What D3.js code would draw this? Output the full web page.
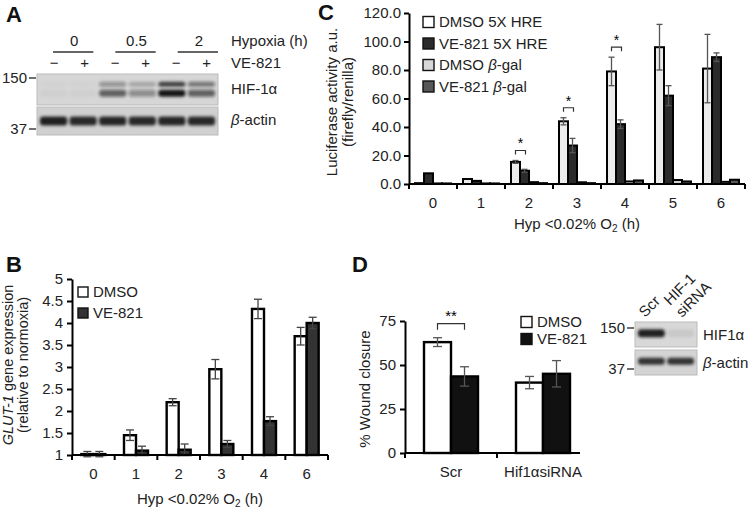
<!DOCTYPE html>
<html lang="en">
<head>
<meta charset="UTF-8">
<title>VE-821 hypoxia figure</title>
<script src="https://d3js.org/d3.v7.min.js"></script>
<style>
  body { margin: 0; background: #fff; }
  svg { font-family: "Liberation Sans", Arial, Helvetica, sans-serif; }
  .axis path, .axis line { stroke: #000; stroke-width: 2; }
  .axis text { font-size: 15px; fill: #222; font-family: "Liberation Sans", Arial, sans-serif; }
  .lbl { font-size: 15px; fill: #222; }
  .panel { font-size: 22px; font-weight: bold; fill: #111; }
</style>
</head>
<body>
<svg id="fig" width="750" height="514"></svg>
<script>
// ---- panel A: western blot ----
const laneMarks = ['\u2212', '+', '\u2212', '+', '\u2212', '+'];
const hypoxiaGroups = ['0', '0.5', '2'];
const hifUpperA = [0.02, 0.02, 0.35, 0.22, 0.8, 0.5];
const hifLowerA = [0.03, 0.03, 0.6, 0.38, 1.0, 0.6];
const actinA = [0.95, 0.9, 0.92, 0.9, 0.92, 0.9];

// ---- panel B: GLUT-1 expression ----
const hoursB = ['0', '1', '2', '3', '4', '6'];
const seriesB = ['DMSO', 'VE-821'];
const glutDMSO = [1.02, 1.45, 2.2, 2.95, 4.32, 3.7];
const glutDMSOErr = [0.06, 0.12, 0.08, 0.22, 0.22, 0.2];
const glutVE = [1.02, 1.1, 1.12, 1.25, 1.77, 4.0];
const glutVEErr = [0.06, 0.1, 0.13, 0.08, 0.1, 0.13];
const ticksB = [1, 1.5, 2, 2.5, 3, 3.5, 4, 4.5, 5];

// ---- panel C: luciferase ----
const hoursC = ['0', '1', '2', '3', '4', '5', '6'];
const seriesC = ['DMSO 5X HRE', 'VE-821 5X HRE', 'DMSO \u03b2-gal', 'VE-821 \u03b2-gal'];
const dmsoHRE = [0.6, 3.5, 15.5, 44, 79, 96, 81];
const dmsoHREErr = [0.3, 0.5, 1, 2.5, 10, 16, 24];
const veHRE = [7.5, 2.2, 9.3, 27, 42, 62, 89];
const veHREErr = [0.5, 0.4, 1, 5, 3, 7, 3];
const dmsoGal = [0.4, 0.4, 1.3, 1.2, 1.8, 2.8, 1.5];
const veGal = [0.4, 0.4, 0.6, 0.6, 2.5, 1.8, 3];
const sigC = ['2', '3', '4'];
const ticksC = [0, 20, 40, 60, 80, 100, 120];

// ---- panel D: wound closure ----
const groupsD = ['Scr', 'Hif1\u03b1siRNA'];
const woundDMSO = [63, 40];
const woundDMSOErr = [2.5, 3.5];
const woundVE = [43.5, 45];
const woundVEErr = [5.5, 7.5];
const ticksD = [0, 25, 50, 75];
const lanesD = ['Scr', 'HIF-1 siRNA'];
const hifD = [0.95, 0.07];
const actinD = [0.85, 0.85];

const svg = d3.select('#fig');

// blur for blot bands
const defs = svg.append('defs');
defs.append('filter').attr('id', 'blur').attr('x', '-50%').attr('y', '-100%').attr('width', '200%').attr('height', '300%')
  .append('feGaussianBlur').attr('stdDeviation', 1.6);

function panelLetter(t, x, y) {
  svg.append('text').attr('class', 'panel').attr('x', x).attr('y', y).text(t);
}

// draws a blot strip; lanes from a band scale, intensity via opacity
function blot(x0, x1, y0, y1, lanes, rows, bg) {
  const g = svg.append('g');
  const xl = d3.scaleBand().domain(d3.range(lanes)).range([x0, x1]).paddingInner(0.08).paddingOuter(0.1);
  g.append('rect').attr('x', x0).attr('y', y0).attr('width', x1 - x0).attr('height', y1 - y0)
    .attr('fill', bg).attr('stroke', '#bbb').attr('stroke-width', 1);
  rows.forEach(r => {
    g.append('g').attr('filter', 'url(#blur)')
      .selectAll('rect').data(r.vals).join('rect')
      .attr('x', (d, i) => xl(i))
      .attr('width', xl.bandwidth())
      .attr('y', y0 + (y1 - y0) * r.pos - r.h / 2)
      .attr('height', r.h)
      .attr('rx', 3)
      .attr('fill', '#151515')
      .attr('opacity', d => d);
  });
  return xl;
}

// size marker: "150 –" next to a blot
function marker(xEnd, y, t) {
  svg.append('text').attr('class', 'lbl').attr('text-anchor', 'end').attr('x', xEnd - 9).attr('y', y + 5).text(t);
  svg.append('line').attr('x1', xEnd - 7).attr('x2', xEnd).attr('y1', y).attr('y2', y)
    .attr('stroke', '#222').attr('stroke-width', 1.3);
}

// ================= Panel A =================
panelLetter('A', 6, 22);
{
  const bx0 = 37, bx1 = 218;
  const xl = d3.scaleBand().domain(d3.range(6)).range([bx0 + 2, bx1 + 4]);
  svg.append('g').selectAll('text').data(laneMarks).join('text')
    .attr('class', 'lbl').attr('x', (d, i) => xl(i) + xl.bandwidth() / 2).attr('y', 68)
    .attr('text-anchor', 'middle').text(d => d);
  const xg = d3.scaleBand().domain(hypoxiaGroups).range([bx0 + 14, bx1 + 20]);
  const gg = svg.append('g').selectAll('g').data(hypoxiaGroups).join('g');
  gg.append('text').attr('class', 'lbl').attr('y', 46)
    .attr('x', d => xg(d) + (xg.bandwidth() - 18) / 2 + 1)
    .attr('text-anchor', 'middle').text(d => d);
  gg.append('line').attr('x1', d => xg(d) + 2).attr('x2', d => xg(d) + xg.bandwidth() - 20)
    .attr('y1', 52).attr('y2', 52).attr('stroke', '#333').attr('stroke-width', 1.3);
  svg.append('text').attr('class', 'lbl').attr('x', 231).attr('y', 46).text('Hypoxia (h)');
  svg.append('text').attr('class', 'lbl').attr('x', 231).attr('y', 68).text('VE-821');

  blot(bx0, bx1, 74, 105, 6, [
    { vals: hifUpperA, pos: 0.33, h: 5 },
    { vals: hifLowerA, pos: 0.62, h: 7 }
  ], '#d6d6d6');
  blot(bx0, bx1, 107, 135, 6, [{ vals: actinA, pos: 0.5, h: 9 }], '#d0d0d0');

  svg.append('text').attr('class', 'lbl').attr('x', 231).attr('y', 94).text('HIF-1\u03b1');
  svg.append('text').attr('class', 'lbl').attr('x', 231).attr('y', 125)
    .html('<tspan font-style="italic">\u03b2</tspan>-actin');
  marker(36, 78, '150');
  marker(36, 129, '37');
}

// helpers for bar charts
function errorBars(g, rows, xc, y, cap, color) {
  const e = g.append('g').attr('stroke', color).attr('stroke-width', 1.3).attr('fill', 'none');
  e.selectAll('line.v').data(rows).join('line').attr('class', 'v')
    .attr('x1', xc).attr('x2', xc).attr('y1', d => y(d.v - d.e)).attr('y2', d => y(d.v + d.e));
  e.selectAll('line.t').data(rows).join('line').attr('class', 't')
    .attr('x1', d => xc(d) - cap / 2).attr('x2', d => xc(d) + cap / 2)
    .attr('y1', d => y(d.v + d.e)).attr('y2', d => y(d.v + d.e));
  e.selectAll('line.b').data(rows).join('line').attr('class', 'b')
    .attr('x1', d => xc(d) - cap / 2).attr('x2', d => xc(d) + cap / 2)
    .attr('y1', d => y(d.v - d.e)).attr('y2', d => y(d.v - d.e));
}

function bandAxis(x, yPos, tickLen, end) {
  const g = svg.append('g').attr('class', 'axis').attr('transform', `translate(0,${yPos})`)
    .call(d3.axisBottom(x).tickSize(0).tickPadding(13));
  g.select('.domain').remove();
  const r = x.range();
  const bounds = x.domain().map(d => x(d)).concat([r[1]]).filter(d => d <= (end || r[1]));
  g.append('line').attr('x1', r[0]).attr('x2', end || r[1]).attr('y1', 0).attr('y2', 0);
  g.selectAll('line.bt').data(bounds).join('line').attr('class', 'bt')
    .attr('x1', d => d).attr('x2', d => d).attr('y1', 0).attr('y2', tickLen);
  return g;
}

function legendBox(x, y, fill, html, size) {
  svg.append('rect').attr('x', x).attr('y', y - size / 2).attr('width', size).attr('height', size)
    .attr('fill', fill).attr('stroke', '#111').attr('stroke-width', 1.4);
  svg.append('text').attr('class', 'lbl').attr('x', x + size + 5).attr('y', y + 5).html(html);
}

// ================= Panel B =================
panelLetter('B', 6, 272);
{
  const x = d3.scaleBand().domain(hoursB).range([72, 328]);
  const y = d3.scaleLinear().domain([1, 5]).range([455, 279]);
  const s = d3.scaleBand().domain(seriesB).range([-12, 12]);
  const fills = { 'DMSO': '#fff', 'VE-821': '#333' };
  const rows = [];
  hoursB.forEach((h, i) => {
    rows.push({ h, s: 'DMSO', v: glutDMSO[i], e: glutDMSOErr[i] });
    rows.push({ h, s: 'VE-821', v: glutVE[i], e: glutVEErr[i] });
  });
  const g = svg.append('g');
  const bx = d => x(d.h) + x.bandwidth() / 2 + s(d.s);
  g.selectAll('rect').data(rows).join('rect')
    .attr('x', bx).attr('width', s.bandwidth())
    .attr('y', d => y(d.v)).attr('height', d => y(1) - y(d.v))
    .attr('fill', d => fills[d.s]).attr('stroke', '#000').attr('stroke-width', 2.4);
  errorBars(g, rows, d => bx(d) + s.bandwidth() / 2, y, 8, '#444');

  svg.append('g').attr('class', 'axis').attr('transform', 'translate(72,0)')
    .call(d3.axisLeft(y).tickValues(ticksB).tickFormat(d3.format('~g')).tickSize(5).tickSizeOuter(0).tickPadding(4));
  bandAxis(x, 455, 5);

  legendBox(78, 292, '#fff', 'DMSO', 10);
  legendBox(78, 313, '#333', 'VE-821', 10);

  svg.append('text').attr('class', 'lbl').attr('text-anchor', 'middle').style('font-size', '14.5px')
    .attr('transform', 'translate(13,365) rotate(-90)')
    .html('<tspan font-style="italic">GLUT-1</tspan> gene expression');
  svg.append('text').attr('class', 'lbl').attr('text-anchor', 'middle').style('font-size', '14.5px')
    .attr('transform', 'translate(28,365) rotate(-90)').text('(relative to normoxia)');
  svg.append('text').attr('class', 'lbl').attr('text-anchor', 'middle').attr('x', 200).attr('y', 504)
    .html('Hyp &lt;0.02% O<tspan dy="3" font-size="10">2</tspan><tspan dy="-3"> (h)</tspan>');
}

// ================= Panel C =================
panelLetter('C', 318, 20);
{
  const x = d3.scaleBand().domain(hoursC).range([409, 745]);
  const y = d3.scaleLinear().domain([0, 120]).range([184, 13]);
  const s = d3.scaleBand().domain(seriesC).range([6, 42]);
  const fills = ['#ececec', '#2b2b2b', '#d2d2d2', '#575757'];
  const vals = [dmsoHRE, veHRE, dmsoGal, veGal];
  const errs = [dmsoHREErr, veHREErr, null, null];
  const rows = [];
  hoursC.forEach((h, i) => {
    seriesC.forEach((sr, k) => rows.push({ h, s: sr, k, v: vals[k][i], e: errs[k] ? errs[k][i] : 0 }));
  });
  const g = svg.append('g');
  const bx = d => x(d.h) + s(d.s);
  g.selectAll('rect').data(rows).join('rect')
    .attr('x', bx).attr('width', s.bandwidth())
    .attr('y', d => y(d.v)).attr('height', d => y(0) - y(d.v))
    .attr('fill', d => fills[d.k]).attr('stroke', '#000').attr('stroke-width', 2);
  errorBars(g, rows.filter(d => d.e > 0.6), d => bx(d) + s.bandwidth() / 2, y, 6, '#555');

  // significance brackets
  const sig = g.append('g');
  sigC.forEach(h => {
    const i = hoursC.indexOf(h);
    const top = Math.max(dmsoHRE[i] + dmsoHREErr[i], veHRE[i] + veHREErr[i]);
    const yy = y(top) - 10;
    const xa = x(h) + s(seriesC[0]) + s.bandwidth() / 2;
    const xb = x(h) + s(seriesC[1]) + s.bandwidth() / 2 + 1;
    sig.append('path').attr('d', `M${xa},${yy + 4}V${yy}H${xb}V${yy + 4}`)
      .attr('fill', 'none').attr('stroke', '#333').attr('stroke-width', 1.2);
    sig.append('text').attr('x', (xa + xb) / 2).attr('y', yy - 2).attr('text-anchor', 'middle')
      .attr('font-size', 14).text('*');
  });

  svg.append('g').attr('class', 'axis').attr('transform', 'translate(409,0)')
    .call(d3.axisLeft(y).tickValues(ticksC).tickFormat(d3.format('.1f')).tickSize(5).tickSizeOuter(0).tickPadding(3));
  bandAxis(x, 184, 5);

  const lg = [['#fff', 'DMSO 5X HRE'], ['#2b2b2b', 'VE-821 5X HRE'],
    ['#d8d8d8', 'DMSO <tspan font-style="italic">\u03b2</tspan>-gal'],
    ['#575757', 'VE-821 <tspan font-style="italic">\u03b2</tspan>-gal']];
  lg.forEach((l, i) => legendBox(423, 22 + i * 21.5, l[0], l[1], 11));

  svg.append('text').attr('class', 'lbl').attr('text-anchor', 'middle')
    .attr('transform', 'translate(337,102) rotate(-90)').text('Luciferase activity a.u.');
  svg.append('text').attr('class', 'lbl').attr('text-anchor', 'middle')
    .attr('transform', 'translate(353,102) rotate(-90)').text('(firefly/renilla)');
  svg.append('text').attr('class', 'lbl').attr('text-anchor', 'middle').attr('x', 577).attr('y', 229)
    .html('Hyp &lt;0.02% O<tspan dy="3" font-size="10">2</tspan><tspan dy="-3"> (h)</tspan>');
}

// ================= Panel D =================
panelLetter('D', 352, 272);
{
  const x = d3.scaleBand().domain(groupsD).range([405, 589]);
  const y = d3.scaleLinear().domain([0, 75]).range([453, 321]);
  const s = d3.scaleBand().domain(seriesB).range([-27, 27]);
  const fills = { 'DMSO': '#fff', 'VE-821': '#111' };
  const rows = [];
  groupsD.forEach((gname, i) => {
    rows.push({ h: gname, s: 'DMSO', v: woundDMSO[i], e: woundDMSOErr[i] });
    rows.push({ h: gname, s: 'VE-821', v: woundVE[i], e: woundVEErr[i] });
  });
  const g = svg.append('g');
  const bx = d => x(d.h) + x.bandwidth() / 2 + s(d.s);
  g.selectAll('rect').data(rows).join('rect')
    .attr('x', bx).attr('width', s.bandwidth())
    .attr('y', d => y(d.v)).attr('height', d => y(0) - y(d.v))
    .attr('fill', d => fills[d.s]).attr('stroke', '#000').attr('stroke-width', 2.4);
  errorBars(g, rows, d => bx(d) + s.bandwidth() / 2, y, 9, '#555');

  // ** bracket over Scr
  const xa = bx(rows[0]) + s.bandwidth() / 2, xb = bx(rows[1]) + s.bandwidth() / 2;
  const yy = y(woundDMSO[0] + woundDMSOErr[0]) - 14;
  g.append('path').attr('d', `M${xa},${yy + 6}V${yy}H${xb}V${yy + 6}`)
    .attr('fill', 'none').attr('stroke', '#333').attr('stroke-width', 1.2);
  g.append('text').attr('x', (xa + xb) / 2).attr('y', yy - 3).attr('text-anchor', 'middle')
    .attr('font-size', 15).text('**');

  svg.append('g').attr('class', 'axis').attr('transform', 'translate(405,0)')
    .call(d3.axisLeft(y).tickValues(ticksD).tickSize(5).tickSizeOuter(0).tickPadding(4));
  bandAxis(x, 453, 5, 580);

  legendBox(521, 322, '#fff', 'DMSO', 11);
  legendBox(521, 339, '#111', 'VE-821', 11);

  svg.append('text').attr('class', 'lbl').attr('text-anchor', 'middle')
    .attr('transform', 'translate(370,389) rotate(-90)').text('% Wound closure');

  // siRNA blot
  const bx0 = 635, bx1 = 697;
  blot(bx0, bx1, 322, 347, 2, [{ vals: hifD, pos: 0.45, h: 8 }], '#d8d8d8');
  blot(bx0, bx1, 350, 375, 2, [{ vals: actinD, pos: 0.45, h: 7 }], '#d4d4d4');
  const xl = d3.scaleBand().domain(lanesD).range([bx0, bx1]);
  svg.append('text').attr('class', 'lbl')
    .attr('transform', `translate(${xl('Scr') + 10},318) rotate(-45)`).text('Scr');
  svg.append('text').attr('class', 'lbl')
    .attr('transform', `translate(${xl('HIF-1 siRNA') + 4},306) rotate(-45)`).text('HIF-1');
  svg.append('text').attr('class', 'lbl')
    .attr('transform', `translate(${xl('HIF-1 siRNA') + 16},318) rotate(-45)`).text('siRNA');
  svg.append('text').attr('class', 'lbl').attr('x', 703).attr('y', 340).text('HIF1\u03b1');
  svg.append('text').attr('class', 'lbl').attr('x', 703).attr('y', 368)
    .html('<tspan font-style="italic">\u03b2</tspan>-actin');
  marker(634, 328, '150');
  marker(634, 369, '37');
}
</script>
</body>
</html>
